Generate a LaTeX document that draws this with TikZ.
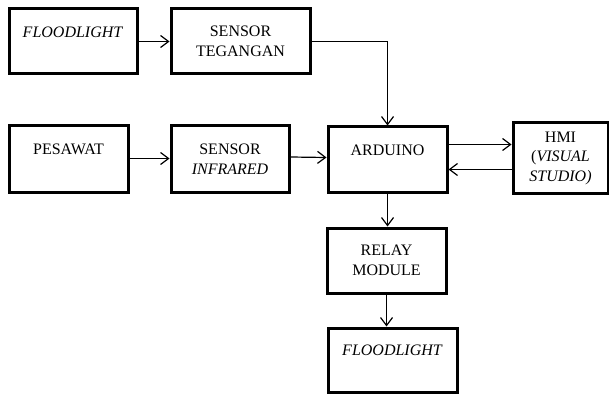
\documentclass[tikz,border=0pt]{standalone}
\usepackage{fontspec}
\setmainfont{Liberation Serif}
\usetikzlibrary{arrows.meta, positioning, calc}

\begin{document}
\begin{tikzpicture}[x=1pt, y=1pt, >={Straight Barb[length=8pt, width=12pt]},
    blok/.style={draw, line width=3pt, align=center, inner sep=0pt,
                 font=\fontsize{16pt}{19.5pt}\selectfont},
    alur/.style={->, line width=1.2pt}]
    \useasboundingbox (0,0) rectangle (609,394);

    % Input row
    \node[blok, minimum width=128, minimum height=65] (flood1) at (73,352.5) {\textit{FLOODLIGHT}\\~};
    \node[blok, minimum width=139, minimum height=65] (tegangan) at (240.5,352.5) {SENSOR\\TEGANGAN};

    \node[blok, minimum width=119, minimum height=66] (pesawat) at (68.5,235) {PESAWAT\\~};
    \node[blok, minimum width=118, minimum height=66] (infrared) at (230,235) {SENSOR\\\textit{INFRARED}};

    % Controller and HMI
    \node[blok, minimum width=119, minimum height=65] (arduino) at (387.5,234.5) {ARDUINO\\~};
    \node[blok, minimum width=95, minimum height=70] (hmi) at (560.5,236) {HMI\\(\textit{VISUAL}\\\textit{STUDIO)}};

    % Output
    \node[blok, minimum width=119, minimum height=65] (relay) at (386.5,133.5) {RELAY\\MODULE};
    \node[blok, minimum width=129, minimum height=64] (flood2) at (392.5,34) {\textit{FLOODLIGHT}\\~};

    % Connectors
    \draw[alur] (flood1) -- (tegangan);
    \draw[alur] (tegangan.east) -| (arduino.north);
    \draw[alur] ($(pesawat.east)+(0,0.5)$) -- ($(infrared.west)+(0,0.5)$);
    \draw[alur] ($(infrared.east)+(0,2)$) -- ($(arduino.west)+(0,2)$);
    \draw[alur] ($(arduino.east)+(0,15)$) -- ($(hmi.west)+(0,13.5)$);
    \draw[alur] ($(hmi.west)+(0,-11.5)$) -- ($(arduino.east)+(0,-10)$);
    \draw[alur] (arduino.south) -- (relay.north -| arduino.south);
    \draw[alur] (relay.south) -- (flood2.north -| relay.south);
\end{tikzpicture}
\end{document}
